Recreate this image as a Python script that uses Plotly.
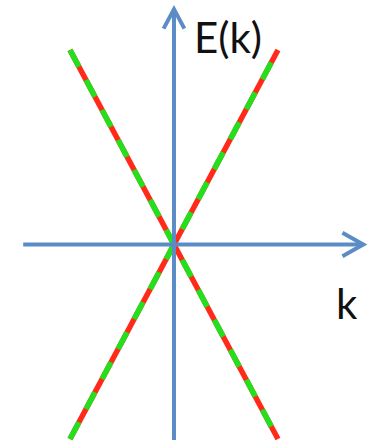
import plotly.graph_objects as go

# Data: linear dispersion E = ±k
k_vals = [-1.0, 0.0, 1.0]
E_plus = [-1.0, 0.0, 1.0]
E_minus = [1.0, 0.0, -1.0]

AXIS_COLOR = "#5B8CC6"
RED = "#FF2A1A"
GREEN = "#22E01C"

fig = go.Figure()

# axes with chevron arrowheads (in data coordinates)
x0, x1 = -1.45, 1.82
y0, y1 = -1.005, 1.21
fig.add_shape(type="line", x0=x0, y0=0, x1=x1, y1=0, line=dict(color=AXIS_COLOR, width=4))
fig.add_shape(type="line", x0=0, y0=y0, x1=0, y1=y1, line=dict(color=AXIS_COLOR, width=4))
# arrowheads
dxh, dyh = 0.20, 0.06
fig.add_shape(type="path",
              path=f"M {x1-dxh},{dyh} L {x1},0 L {x1-dxh},{-dyh}",
              line=dict(color=AXIS_COLOR, width=4))
dxv, dyv = 0.10, 0.10
fig.add_shape(type="path",
              path=f"M {-dxv},{y1-dyv} L 0,{y1} L {dxv},{y1-dyv}",
              line=dict(color=AXIS_COLOR, width=4))

for E in (E_plus, E_minus):
    fig.add_trace(go.Scatter(x=k_vals, y=E, mode="lines",
                             line=dict(color=RED, width=5.5), hoverinfo="skip"))
    fig.add_trace(go.Scatter(x=k_vals, y=E, mode="lines",
                             line=dict(color=GREEN, width=5.5, dash="19px,15px"),
                             hoverinfo="skip"))

fig.add_annotation(x=0.17, y=1.065, xref="x", yref="y", text="E(k)", showarrow=False,
                   xanchor="left", yanchor="middle",
                   font=dict(family="Lato", size=42, color="#111111"))
fig.add_annotation(x=1.54, y=-0.30, xref="x", yref="y", text="k", showarrow=False,
                   xanchor="left", yanchor="middle",
                   font=dict(family="Lato", size=42, color="#111111"))

fig.update_layout(
    width=370, height=446,
    margin=dict(l=0, r=0, t=0, b=0),
    paper_bgcolor="white", plot_bgcolor="white",
    showlegend=False,
    xaxis=dict(range=[-1.673, 1.885], visible=False, fixedrange=True),
    yaxis=dict(range=[-1.036, 1.257], visible=False, fixedrange=True),
)

fig.write_html("out.html", config={"displayModeBar": False},
               post_script="document.body.style.margin='0';document.body.style.overflow='hidden';")
